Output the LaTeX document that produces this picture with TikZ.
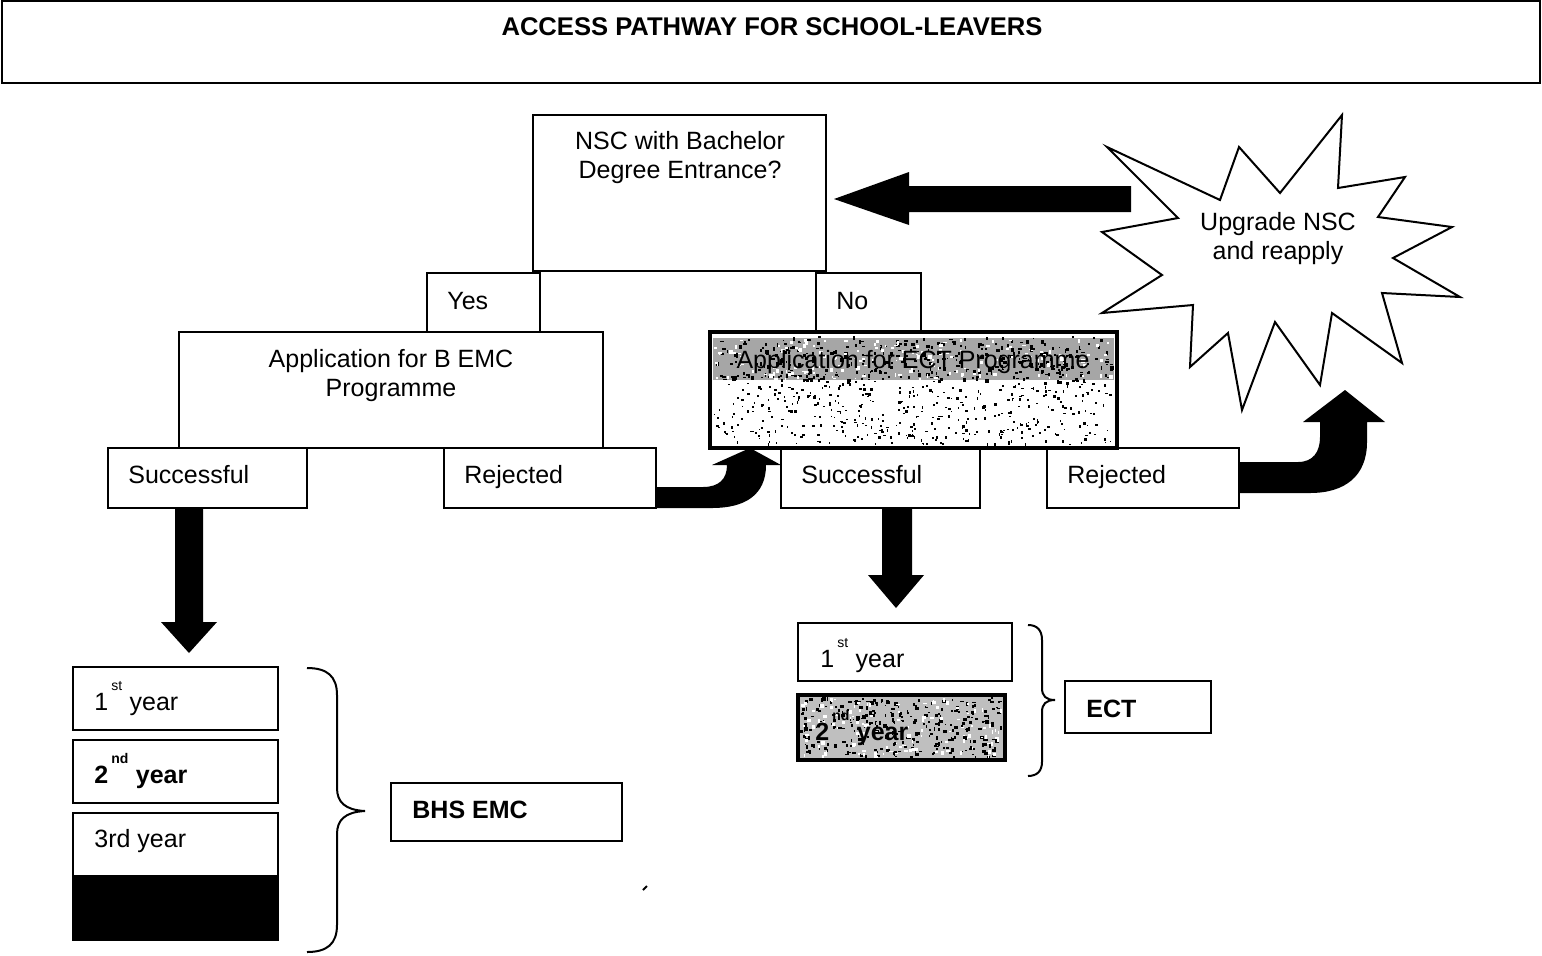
\documentclass[tikz,border=0pt]{standalone}
\usepackage{fontspec}
\setmainfont{Liberation Sans}
\usetikzlibrary{fit}
% raised ordinal suffix with a small gap after it
\newcommand\ordsup[1]{\hspace{0.12em}\raisebox{10pt}{\fontsize{7}{8}\selectfont #1}\hspace{0.3em}}
\begin{document}
\begin{tikzpicture}[x=0.5pt,y=-0.5pt,
  box/.style={draw, line width=1pt, inner sep=0pt},
  heavybox/.style={draw, line width=2.2pt, inner sep=0pt},
  txt/.style={inner sep=0pt, font=\fontsize{12.5}{14.5}\selectfont},
  btxt/.style={inner sep=0pt, font=\fontsize{12.5}{14.5}\selectfont\bfseries},
  blockarrow/.style={fill=black, draw=none},
  bracket/.style={draw, line width=1pt},
]
\useasboundingbox (0,0) rectangle (1542,955);

% ---- title banner
\node[box, fit={(2,1) (1540,83)}] (title) {};
\node[btxt, anchor=base, font=\fontsize{12.8}{14.5}\selectfont\bfseries] (ttl) at (772,35) {ACCESS PATHWAY FOR SCHOOL-LEAVERS};

% ---- decision box and star
\node[box, fit={(533,115) (826,271)}] (nsc) {};
\node[txt, anchor=north, align=center] (nsctxt) at (680,131) {NSC with Bachelor\\Degree Entrance?};

\draw[line width=1pt, line join=miter] (1107,147) -- (1220,200) -- (1239,147) -- (1280,193) -- (1342,115)
  -- (1338,188) -- (1405,177) -- (1378,217) -- (1452,227) -- (1393,258) -- (1460,297)
  -- (1382,293) -- (1402,363) -- (1332,313) -- (1320,385) -- (1275,322) -- (1242,410)
  -- (1228,333) -- (1190,367) -- (1193,305) -- (1102,313) -- (1162,275) -- (1102,232)
  -- (1178,218) -- cycle;
\node[txt, anchor=north, align=center] (star) at (1278,212) {Upgrade NSC\\and reapply};

% ---- yes / no tabs
\node[box, fit={(427,273) (540,332)}] (yes) {};
\node[txt, anchor=base west] at (447,309) {Yes};
\node[box, fit={(816,273) (921,332)}] (no) {};
\node[txt, anchor=base west] at (836,309) {No};

% ---- application boxes
\node[box, fit={(179,332) (603,448)}] (appB) {};
\node[txt, anchor=north, align=center] (appBtxt) at (391,349) {Application for B EMC\\Programme};

\pgfmathsetseed{2024}
\fill[black!35] (713,338) rectangle (1114,380);
\foreach \k in {1,...,380}{\fill[black] ({713+398*rnd},{336+44*rnd}) rectangle ++({1+3*rnd},{1+3*rnd});}
\foreach \k in {1,...,160}{\fill[white] ({713+398*rnd},{338+40*rnd}) rectangle ++({1+3*rnd},{1+3*rnd});}
\foreach \k in {1,...,420}{\fill[black] ({713+398*rnd},{380+64*rnd}) rectangle ++({1+2*rnd},{1+2*rnd});}
\node[heavybox, fit={(710,332) (1117,448)}] (appE) {};
\node[txt, anchor=base] (appEtxt) at (913,368) {Application for ECT Programme};

% ---- outcome boxes
\node[box, fit={(108,448) (307,508)}] (succL) {};
\node[txt, anchor=base west] at (128,483) {Successful};
\node[box, fit={(444,448) (656,508)}] (rejL) {};
\node[txt, anchor=base west] at (464,483) {Rejected};
\node[box, fit={(781,448) (980,508)}] (succR) {};
\node[txt, anchor=base west] at (801,483) {Successful};
\node[box, fit={(1047,448) (1239,508)}] (rejR) {};
\node[txt, anchor=base west] at (1067,483) {Rejected};

% ---- block arrows
\fill[blockarrow] (1131,186) -- (909,186) -- (909,172) -- (834,199) -- (909,225) -- (909,212) -- (1131,212) -- cycle;
\fill[blockarrow] (175,508) -- (203,508) -- (203,622) -- (217,622) -- (189,653) -- (161,622) -- (175,622) -- cycle;
\fill[blockarrow] (882,508) -- (912,508) -- (912,575) -- (924,575) -- (896,608) -- (868,575) -- (882,575) -- cycle;
\fill[blockarrow] (656,487) -- (703,487) .. controls (719,487) and (727,479) .. (727,465)
  -- (712,465) -- (750,448) -- (781,465) -- (766,465)
  .. controls (766,495) and (745,508) .. (712,508) -- (656,508) -- cycle;
\fill[blockarrow] (1239,462) -- (1298,462) .. controls (1313,462) and (1320,452) .. (1320,437)
  -- (1320,422) -- (1303,422) -- (1345,390) -- (1385,422) -- (1367,422) -- (1367,442)
  .. controls (1367,476) and (1345,493) .. (1310,493) -- (1239,493) -- cycle;

% ---- B EMC years
\node[box, fit={(73,667) (278,730)}] (y1L) {};
\node[txt, anchor=base west] at (94,710) {1\ordsup{st}year};
\node[box, fit={(73,740) (278,803)}] (y2L) {};
\node[btxt, anchor=base west] at (94,783) {2\ordsup{nd}year};
\fill[black] (73,875) rectangle (278,940);
\node[box, fit={(73,813) (278,940)}] (y3L) {};
\node[txt, anchor=base west] at (94,847) {3rd year};

\draw[bracket] (307,668) .. controls (327,668) and (337,676) .. (337,695) -- (337,788)
  .. controls (337,802) and (345,810) .. (365,811) .. controls (345,812) and (337,820) .. (337,834)
  -- (337,925) .. controls (337,944) and (327,952) .. (307,952);
\node[box, fit={(391,783) (622,841)}] (bhs) {};
\node[btxt, anchor=base west] at (412,818) {BHS EMC};
\draw[line width=1pt] (643,890) -- (647,886);

% ---- ECT years
\node[box, fit={(798,623) (1012,681)}] (y1R) {};
\node[txt, anchor=base west] at (820,667) {1\ordsup{st}year};
\fill[black!25] (800,697) rectangle (1003,758);
\foreach \k in {1,...,300}{\fill[black] ({800+201*rnd},{697+59*rnd}) rectangle ++({1+3*rnd},{1+3*rnd});}
\foreach \k in {1,...,120}{\fill[white] ({800+201*rnd},{697+59*rnd}) rectangle ++({1+3*rnd},{1+3*rnd});}
\node[heavybox, fit={(798,695) (1005,760)}] (y2R) {};
\node[btxt, anchor=base west] at (815,740) {2\ordsup{nd}year};

\draw[bracket] (1028,625) .. controls (1037,625) and (1042,630) .. (1042,640) -- (1042,688)
  .. controls (1042,696) and (1046,700) .. (1055,700) .. controls (1046,700) and (1042,704) .. (1042,712)
  -- (1042,762) .. controls (1042,771) and (1037,776) .. (1028,776);
\node[box, fit={(1065,681) (1211,733)}] (ect) {};
\node[btxt, anchor=base west] at (1086,717) {ECT};
\end{tikzpicture}
\end{document}
